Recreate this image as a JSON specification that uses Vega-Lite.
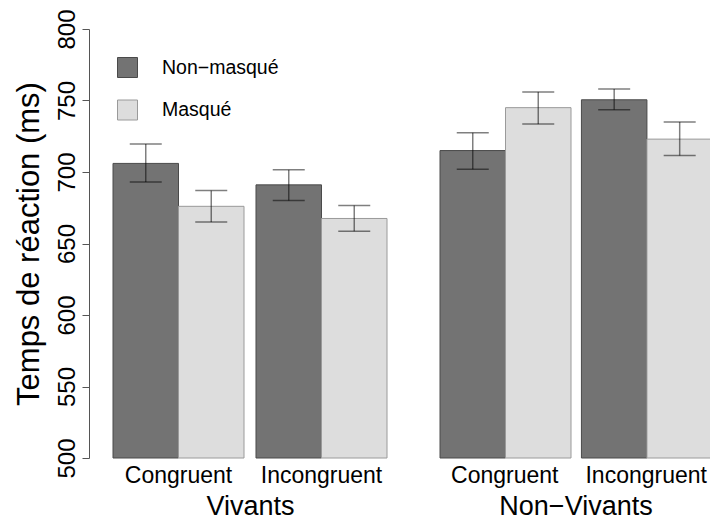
{
  "$schema": "https://vega.github.io/schema/vega-lite/v6.json",
  "padding": {"left": 13, "top": 8, "right": 0, "bottom": 0},
  "background": "white",
  "config": {
    "font": "Liberation Sans",
    "view": {"stroke": null},
    "concat": {"spacing": 51},
    "axis": {"labelColor": "#000", "titleColor": "#000", "titleFontWeight": "normal", "labelFont": "Liberation Sans", "titleFont": "Liberation Sans", "grid": false}
  },
  "datasets": {
    "rt": [
      {"group": "Vivants", "condition": "Congruent", "masking": "Non−masqué", "rt": 706, "lo": 693, "hi": 719.5},
      {"group": "Vivants", "condition": "Congruent", "masking": "Masqué", "rt": 676, "lo": 665, "hi": 687},
      {"group": "Vivants", "condition": "Incongruent", "masking": "Non−masqué", "rt": 691, "lo": 680, "hi": 701.5},
      {"group": "Vivants", "condition": "Incongruent", "masking": "Masqué", "rt": 667.5, "lo": 658.5, "hi": 676.5},
      {"group": "Non−Vivants", "condition": "Congruent", "masking": "Non−masqué", "rt": 715, "lo": 702, "hi": 727.5},
      {"group": "Non−Vivants", "condition": "Congruent", "masking": "Masqué", "rt": 745, "lo": 733.5, "hi": 756},
      {"group": "Non−Vivants", "condition": "Incongruent", "masking": "Non−masqué", "rt": 750.5, "lo": 743.5, "hi": 758},
      {"group": "Non−Vivants", "condition": "Incongruent", "masking": "Masqué", "rt": 723, "lo": 711.5, "hi": 735}
    ]
  },
  "hconcat": [
    {
      "width": 274,
      "height": 429,
      "data": {"name": "rt"},
      "transform": [{"filter": "datum.group === 'Vivants'"}],
      "encoding": {
        "x": {"field": "condition", "type": "nominal", "sort": ["Congruent", "Incongruent"],
          "scale": {"paddingInner": 0.0839, "paddingOuter": 0},
          "axis": {"title": "Vivants", "domain": false, "ticks": false, "labelAngle": 0, "labelFontSize": 23, "labelPadding": 6, "titleFontSize": 27, "titlePadding": 6}},
        "xOffset": {"field": "masking", "type": "nominal", "sort": ["Non−masqué", "Masqué"], "scale": {"paddingInner": 0, "paddingOuter": 0}}
      },
      "layer": [
        {
          "mark": {"type": "bar", "strokeWidth": 1},
          "encoding": {
            "y": {"field": "rt", "type": "quantitative", "scale": {"domain": [500, 800], "nice": false, "zero": false},
              "axis": {"title": "Temps de réaction (ms)", "offset": 24, "values": [500, 550, 600, 650, 700, 750, 800], "labelAngle": -90, "labelAlign": "center", "labelBaseline": "alphabetic", "labelFontSize": 24, "labelPadding": 8, "labelFlush": false, "labelOverlap": false, "tickSize": 7, "domainColor": "#555", "tickColor": "#555", "titleFontSize": 31, "titlePadding": 10}},
            "y2": {"datum": 500},
            "fill": {"field": "masking", "type": "nominal", "scale": {"domain": ["Non−masqué", "Masqué"], "range": ["#737373", "#dddddd"]},
              "legend": {"title": null, "orient": "none", "legendX": 4, "legendY": 28, "padding": 0, "symbolType": "square", "symbolSize": 400, "symbolStrokeWidth": 1, "labelFontSize": 19.5, "labelOffset": 24, "rowPadding": 17.5, "labelColor": "#000", "labelFont": "Liberation Sans"}},
            "stroke": {"field": "masking", "type": "nominal", "scale": {"domain": ["Non−masqué", "Masqué"], "range": ["#4a4a4a", "#9a9a9a"]},
              "legend": {"title": null, "orient": "none", "legendX": 4, "legendY": 28, "padding": 0, "symbolType": "square", "symbolSize": 400, "symbolStrokeWidth": 1, "labelFontSize": 19.5, "labelOffset": 24, "rowPadding": 17.5, "labelColor": "#000", "labelFont": "Liberation Sans"}}
          }
        },
        {
          "mark": {"type": "rule", "color": "#000", "opacity": 0.5, "strokeWidth": 1.5},
          "encoding": {"y": {"field": "lo", "type": "quantitative", "scale": {"domain": [500, 800], "nice": false, "zero": false}, "axis": {"title": "Temps de réaction (ms)"}}, "y2": {"field": "hi"}}
        },
        {
          "mark": {"type": "tick", "color": "#000", "opacity": 0.5, "thickness": 1.5, "size": 32},
          "encoding": {"y": {"field": "lo", "type": "quantitative", "scale": {"domain": [500, 800], "nice": false, "zero": false}, "axis": {"title": "Temps de réaction (ms)"}}}
        },
        {
          "mark": {"type": "tick", "color": "#000", "opacity": 0.5, "thickness": 1.5, "size": 32},
          "encoding": {"y": {"field": "hi", "type": "quantitative", "scale": {"domain": [500, 800], "nice": false, "zero": false}, "axis": {"title": "Temps de réaction (ms)"}}}
        }
      ]
    },
    {
      "width": 271,
      "height": 429,
      "data": {"name": "rt"},
      "transform": [{"filter": "datum.group === 'Non−Vivants'"}],
      "encoding": {
        "x": {"field": "condition", "type": "nominal", "sort": ["Congruent", "Incongruent"],
          "scale": {"paddingInner": 0.0839, "paddingOuter": 0},
          "axis": {"title": "Non−Vivants", "domain": false, "ticks": false, "labelAngle": 0, "labelFontSize": 23, "labelPadding": 6, "titleFontSize": 27, "titlePadding": 6}},
        "xOffset": {"field": "masking", "type": "nominal", "sort": ["Non−masqué", "Masqué"], "scale": {"paddingInner": 0, "paddingOuter": 0}}
      },
      "layer": [
        {
          "mark": {"type": "bar", "strokeWidth": 1},
          "encoding": {
            "y": {"field": "rt", "type": "quantitative", "scale": {"domain": [500, 800], "nice": false, "zero": false}, "axis": null},
            "y2": {"datum": 500},
            "fill": {"field": "masking", "type": "nominal", "scale": {"domain": ["Non−masqué", "Masqué"], "range": ["#737373", "#dddddd"]},
              "legend": {"title": null, "orient": "none", "legendX": 4, "legendY": 28, "padding": 0, "symbolType": "square", "symbolSize": 400, "symbolStrokeWidth": 1, "labelFontSize": 19.5, "labelOffset": 24, "rowPadding": 17.5, "labelColor": "#000", "labelFont": "Liberation Sans"}},
            "stroke": {"field": "masking", "type": "nominal", "scale": {"domain": ["Non−masqué", "Masqué"], "range": ["#4a4a4a", "#9a9a9a"]},
              "legend": {"title": null, "orient": "none", "legendX": 4, "legendY": 28, "padding": 0, "symbolType": "square", "symbolSize": 400, "symbolStrokeWidth": 1, "labelFontSize": 19.5, "labelOffset": 24, "rowPadding": 17.5, "labelColor": "#000", "labelFont": "Liberation Sans"}}
          }
        },
        {
          "mark": {"type": "rule", "color": "#000", "opacity": 0.5, "strokeWidth": 1.5},
          "encoding": {"y": {"field": "lo", "type": "quantitative", "scale": {"domain": [500, 800], "nice": false, "zero": false}, "axis": null}, "y2": {"field": "hi"}}
        },
        {
          "mark": {"type": "tick", "color": "#000", "opacity": 0.5, "thickness": 1.5, "size": 32},
          "encoding": {"y": {"field": "lo", "type": "quantitative", "scale": {"domain": [500, 800], "nice": false, "zero": false}, "axis": null}}
        },
        {
          "mark": {"type": "tick", "color": "#000", "opacity": 0.5, "thickness": 1.5, "size": 32},
          "encoding": {"y": {"field": "hi", "type": "quantitative", "scale": {"domain": [500, 800], "nice": false, "zero": false}, "axis": null}}
        }
      ]
    }
  ]
}
